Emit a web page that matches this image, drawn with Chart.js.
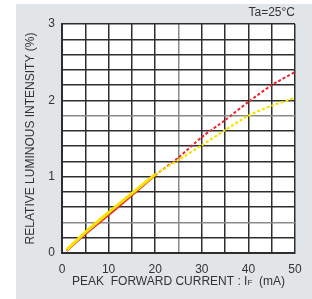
<!DOCTYPE html>
<html>
<head>
<meta charset="utf-8">
<script src="https://cdn.jsdelivr.net/npm/chart.js@4/dist/chart.umd.min.js"></script>
<style>
  html, body { margin: 0; padding: 0; background: #fff; }
  #wrap { position: relative; width: 312px; height: 299px; }
</style>
</head>
<body>
<div id="wrap"><canvas id="ledChart" width="312" height="299"></canvas></div>
<script>
// measured range (solid) and extrapolated range (dashed)
const solidCurrent = [1, 5, 10, 15, 20];
const redSolid = [0.03, 0.25, 0.50, 0.76, 1.02];
const yellowSolid = [0.04, 0.27, 0.53, 0.78, 1.03];

const dashCurrent = [20, 25, 30, 35, 40, 45, 50];
const redDash = [1.02, 1.25, 1.52, 1.74, 1.98, 2.20, 2.37];
const yellowDash = [1.03, 1.22, 1.41, 1.61, 1.80, 1.93, 2.03];

const xTicks = [0, 10, 20, 30, 40, 50];
const yTicks = [0, 1, 2, 3];

const fontFamily = '"Liberation Sans", Arial, sans-serif';
const textColor = '#333';

function toPoints(xs, ys) {
  return xs.map((x, i) => ({ x: x, y: ys[i] }));
}

// gray panel behind everything + axis titles + condition note
const panelPlugin = {
  id: 'panel',
  beforeDraw(chart) {
    const c = chart.ctx;
    c.save();
    c.fillStyle = '#e1e5e8';
    c.fillRect(16, 4, chart.width - 16, chart.height - 4);
    const a = chart.chartArea;
    c.fillStyle = '#fff';
    c.fillRect(a.left, a.top, a.right - a.left, a.bottom - a.top);
    c.restore();
  },
  afterDraw(chart) {
    const c = chart.ctx;
    const a = chart.chartArea;
    c.save();
    c.fillStyle = textColor;
    c.font = '12px ' + fontFamily;
    c.textBaseline = 'middle';

    // Ta note
    c.textAlign = 'right';
    c.fillText('Ta=25°C', a.right, 13);

    // y title
    c.save();
    c.translate(31, (a.top + a.bottom) / 2);
    c.rotate(-Math.PI / 2);
    c.textAlign = 'center';
    c.fillText('RELATIVE LUMINOUS INTENSITY (%)', 0, 0);
    c.restore();

    // x title with small F
    const p1 = 'PEAK  FORWARD CURRENT : I';
    const p2 = 'F';
    const p3 = '  (mA)';
    const w1 = c.measureText(p1).width;
    const w3 = c.measureText(p3).width;
    c.font = '8px ' + fontFamily;
    const w2 = c.measureText(p2).width;
    let x = (a.left + a.right) / 2 - (w1 + w2 + w3) / 2;
    const y = 282;
    c.textAlign = 'left';
    c.font = '12px ' + fontFamily;
    c.fillText(p1, x, y);
    x += w1;
    c.font = '8px ' + fontFamily;
    c.fillText(p2, x, y + 1);
    x += w2;
    c.font = '12px ' + fontFamily;
    c.fillText(p3, x, y);
    c.restore();
  }
};

function gridColor(ctx) {
  const v = ctx.tick ? ctx.tick.value : null;
  if (v === null) return '#333';
  if (ctx.scale.axis === 'x' && v === 25) return '#8a8a8a';
  if (ctx.scale.axis === 'y' && (Math.abs(v - 0.4) < 1e-6 || Math.abs(v - 1.8) < 1e-6)) return '#8a8a8a';
  return '#2e2e2e';
}

const ctx = document.getElementById('ledChart').getContext('2d');
const chart = new Chart(ctx, {
  type: 'line',
  data: {
    datasets: [
      {
        label: 'Red',
        data: toPoints(solidCurrent, redSolid),
        borderColor: '#e8262b',
        borderWidth: 2.5,
        pointRadius: 0,
        tension: 0.3,
        order: 2
      },
      {
        label: 'Yellow',
        data: toPoints(solidCurrent, yellowSolid),
        borderColor: '#f7e300',
        borderWidth: 3,
        pointRadius: 0,
        tension: 0.3,
        order: 1
      },
      {
        label: 'Red (ext)',
        data: toPoints(dashCurrent, redDash),
        borderColor: '#e8262b',
        borderWidth: 2,
        borderDash: [3, 2],
        pointRadius: 0,
        tension: 0.2,
        order: 2
      },
      {
        label: 'Yellow (ext)',
        data: toPoints(dashCurrent, yellowDash),
        borderColor: '#f7e300',
        borderWidth: 2.2,
        borderDash: [3, 2],
        pointRadius: 0,
        tension: 0.2,
        order: 1
      }
    ]
  },
  options: {
    responsive: false,
    animation: false,
    layout: { padding: { top: 24, right: 17, left: 0, bottom: 0 } },
    plugins: {
      legend: { display: false },
      tooltip: { enabled: false }
    },
    scales: {
      x: {
        type: 'linear',
        min: 0,
        max: 50,
        afterFit(scale) { scale.height = 46; },
        border: { display: true, color: '#2e2e2e', width: 2 },
        grid: { color: gridColor, lineWidth: 1.5, drawTicks: false },
        ticks: {
          stepSize: 5,
          padding: 9,
          color: textColor,
          font: { family: fontFamily, size: 12 },
          maxRotation: 0,
          autoSkip: false,
          callback: (v) => (xTicks.includes(v) ? String(v) : '')
        }
      },
      y: {
        type: 'linear',
        min: 0,
        max: 3,
        afterFit(scale) { scale.width = 62; },
        border: { display: true, color: '#2e2e2e', width: 2 },
        grid: { color: gridColor, lineWidth: 1.5, drawTicks: false },
        ticks: {
          stepSize: 0.2,
          padding: 7,
          color: textColor,
          font: { family: fontFamily, size: 12 },
          autoSkip: false,
          callback: (v) => {
            const r = Math.round(v);
            return Math.abs(v - r) < 1e-6 && yTicks.includes(r) ? String(r) : '';
          }
        }
      }
    }
  },
  plugins: [panelPlugin]
});
</script>
</body>
</html>
